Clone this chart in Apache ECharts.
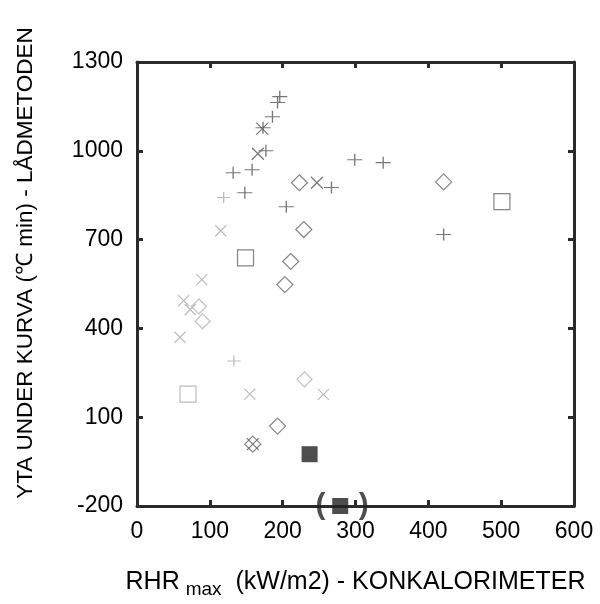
<!DOCTYPE html>
<html>
<head>
<meta charset="utf-8">
<script src="https://cdn.jsdelivr.net/npm/echarts@6/dist/echarts.min.js"></script>
<style>
  html, body { margin: 0; padding: 0; background: #fff; }
  #chart { width: 600px; height: 604px; }
</style>
</head>
<body>
<div id="chart"></div>
<script>
// Axis ranges and tick labels
const xTicks = [0, 100, 200, 300, 400, 500, 600];
const yTicks = [-200, 100, 400, 700, 1000, 1300];

// Plus markers: RHRmax (kW/m2), area under curve (°C min)
const plusX = [196, 193, 186, 173, 177, 158, 132, 148, 267, 205, 299, 338, 421];
const plusY = [1183, 1163, 1115, 1078, 1000, 936, 926, 858, 876, 811, 970, 960, 717];

// Cross markers
const crossX = [172, 166, 247, 159];
const crossY = [1075, 990, 892, 9];

// Open diamonds
const diamondX = [223, 229, 421, 211, 203, 193, 159];
const diamondY = [892, 734, 895, 626, 548, 70, 9];

// Open squares
const squareX = [501, 149];
const squareY = [828, 638];

// Filled squares
const filledX = [237, 279];
const filledY = [-25, -200];

// Weakly printed marks
const faintCrossX = [115, 89, 64, 73, 59, 155, 256];
const faintCrossY = [730, 565, 494, 464, 370, 178, 177];
const faintDiamondX = [85, 90, 230];
const faintDiamondY = [474, 424, 228];
const faintPlusX = [133, 119];
const faintPlusY = [290, 842];
const faintSquareX = [70];
const faintSquareY = [178];

const zip = (xs, ys) => xs.map((x, i) => [x, ys[i]]);

const FONT = "'Liberation Sans', Arial, Helvetica, sans-serif";
const PLUS = 'path://M0,5L10,5M5,0L5,10';
const CROSS = 'path://M0,0L10,10M10,0L0,10';

function openSeries(data, symbol, size, color, width) {
  return {
    type: 'scatter',
    data: data,
    symbol: symbol,
    symbolSize: size,
    itemStyle: { color: 'rgba(0,0,0,0)', borderColor: color, borderWidth: width },
    emphasis: { disabled: true },
    silent: true
  };
}

const axisCommon = {
  type: 'value',
  axisLine: { show: true, onZero: false, lineStyle: { color: '#2b2b2b', width: 3 } },
  axisTick: { show: true, inside: true, length: 6, lineStyle: { color: '#2b2b2b', width: 3 } },
  splitLine: { show: false }
};

const plain = v => String(v);

const chart = echarts.init(document.getElementById('chart'), null, { renderer: 'canvas' });

chart.setOption({
  animation: false,
  backgroundColor: '#ffffff',
  grid: { left: 137, right: 26, top: 62, bottom: 97 },
  xAxis: [
    Object.assign({}, axisCommon, {
      min: xTicks[0], max: xTicks[xTicks.length - 1], interval: 100,
      position: 'bottom',
      axisLabel: { color: '#000', fontFamily: FONT, fontSize: 23, margin: 14, formatter: plain },
      name: '{a|RHR}{s|max}{a|  (kW/m2) - KONKALORIMETER}',
      nameLocation: 'middle',
      nameGap: 62,
      nameTextStyle: {
        rich: {
          a: { fontFamily: FONT, fontSize: 25, color: '#000', lineHeight: 28 },
          s: { fontFamily: FONT, fontSize: 19, color: '#000', padding: [15, 0, 0, 6], lineHeight: 28 }
        }
      }
    }),
    Object.assign({}, axisCommon, {
      min: xTicks[0], max: xTicks[xTicks.length - 1], interval: 100,
      position: 'top',
      axisLabel: { show: false }
    })
  ],
  yAxis: [
    Object.assign({}, axisCommon, {
      min: yTicks[0], max: yTicks[yTicks.length - 1], interval: 300,
      position: 'left',
      axisLabel: { color: '#000', fontFamily: FONT, fontSize: 23, margin: 14, formatter: plain }
    }),
    Object.assign({}, axisCommon, {
      min: yTicks[0], max: yTicks[yTicks.length - 1], interval: 300,
      position: 'right',
      axisLabel: { show: false }
    })
  ],
  graphic: [
    {
      type: 'text',
      x: 26,
      y: 263,
      rotation: Math.PI / 2,
      style: {
        text: 'YTA UNDER KURVA (\u2103 min) - LÅDMETODEN',
        font: '22.5px ' + FONT,
        fill: '#000',
        textAlign: 'center',
        textVerticalAlign: 'middle'
      }
    }
  ],
  series: [
    openSeries(zip(plusX, plusY), PLUS, [15, 12], '#555', 1.2),
    openSeries(zip(crossX, crossY), CROSS, [12, 12], '#555', 1.2),
    openSeries(zip(diamondX, diamondY), 'diamond', [16, 16], '#666', 1.2),
    openSeries(zip(squareX, squareY), 'rect', [16, 16], '#666', 1.2),
    openSeries(zip(faintCrossX, faintCrossY), CROSS, [11, 11], '#aaa', 1.2),
    openSeries(zip(faintDiamondX, faintDiamondY), 'diamond', [15, 15], '#b3b3b3', 1.2),
    openSeries(zip(faintPlusX, faintPlusY), PLUS, [13, 11], '#aaa', 1.2),
    openSeries(zip(faintSquareX, faintSquareY), 'rect', [16, 16], '#aaa', 1.2),
    {
      type: 'scatter',
      data: zip(filledX, filledY).map((d, i) => ({
        value: d,
        label: i === 1 ? {
          show: true,
          position: 'inside',
          offset: [2, 0],
          formatter: '(    )',
          fontFamily: FONT,
          fontSize: 30,
          fontWeight: 'bold',
          color: '#222'
        } : { show: false }
      })),
      symbol: 'rect',
      symbolSize: 16,
      itemStyle: { color: '#222' },
      silent: true
    }
  ]
});
</script>
</body>
</html>
